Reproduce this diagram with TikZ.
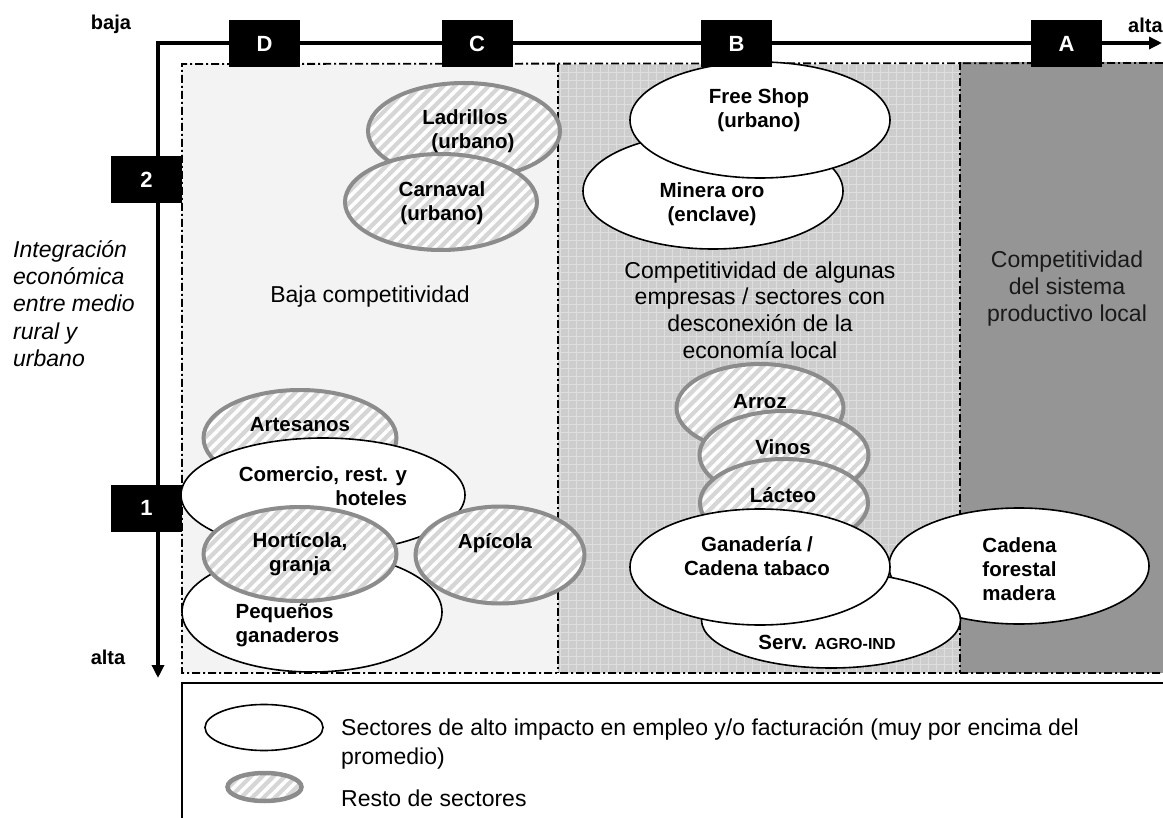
\documentclass[tikz,border=0pt]{standalone}
\usepackage{fontspec}
\setmainfont{Liberation Sans}
\usetikzlibrary{shapes.geometric,patterns.meta,arrows.meta}
\definecolor{zoneD}{HTML}{F3F3F3}
\definecolor{zoneB}{HTML}{CDCDCD}
\definecolor{gridc}{HTML}{DEDEDE}
\definecolor{zoneA}{HTML}{959595}
\definecolor{hatchbg}{HTML}{D6D6D6}
\definecolor{hatchbd}{HTML}{8C8C8C}
\begin{document}
\begin{tikzpicture}[x=1pt,y=-1pt,
 big/.style={ellipse, draw=black, line width=1.6pt, fill=white, inner sep=0pt},
 hatch/.style={ellipse, draw=hatchbd, line width=4pt, inner sep=0pt, preaction={fill=hatchbg}, pattern={Lines[angle=45,distance=8pt,line width=3.5pt]}, pattern color=white},
 lab/.style={font=\bfseries\fontsize{20.5}{24}\selectfont, align=center, inner sep=0pt},
 reg/.style={font=\fontsize{23}{26.7}\selectfont, align=center, inner sep=0pt},
 blackbox/.style={fill=black, text=white, minimum width=71pt, minimum height=47pt, inner sep=0pt, font=\bfseries\fontsize{22}{22}\selectfont},
 axisline/.style={line width=4pt, {Triangle[length=13pt,width=12pt]}-{Triangle[length=13pt,width=12pt]}},
 zoneline/.style={line width=1.8pt, dash pattern=on 8pt off 3pt on 2pt off 3pt},
 endlab/.style={font=\bfseries\fontsize{20}{20}\selectfont, inner sep=0pt},
]
\useasboundingbox (0,0) rectangle (1163,818);
% zones
\fill[zoneD] (182,64) rectangle (558,673);
\fill[zoneB] (558,64) rectangle (960,673);
\draw[gridc, line width=0.8pt, step=8pt] (558,64) grid (960,673);
\fill[zoneA] (960,62) rectangle (1163,673);
\draw[zoneline] (1163,63) -- (182,64) -- (182,673) -- (1163,673);
\draw[zoneline] (558,64) -- (558,673);
\draw[zoneline] (960,62) -- (960,673);
% zone texts
\node[reg] (tbaja) at (370,297) {Baja competitividad};
\node[reg] (tbtext) at (760,310) {Competitividad de algunas\\empresas / sectores con\\desconexión de la\\economía local};
\node[reg, text=black!90] (tatext) at (1067,288.5) {Competitividad\\del sistema\\productivo local};
\node[reg, align=left, anchor=west, font=\itshape\fontsize{23}{27.3}\selectfont] (yaxis) at (13,303.5) {Integración\\económica\\entre medio\\rural y\\urbano};
% ellipses
\node[hatch, minimum width=192pt, minimum height=96pt] (ladr) at (464,131) {};
\node[hatch, minimum width=192pt, minimum height=96pt] (carn) at (441,202) {};
\node[big, minimum width=260pt, minimum height=116pt] (mine) at (713,191) {};
\node[big, minimum width=260pt, minimum height=116pt] (free) at (760,120) {};
\node[hatch, minimum width=193pt, minimum height=96pt] (arte) at (300,438) {};
\node[big, minimum width=284pt, minimum height=114pt] (come) at (323,495) {};
\node[big, minimum width=260pt, minimum height=120pt] (pequ) at (312,612) {};
\node[hatch, minimum width=193pt, minimum height=94pt] (hort) at (300,554) {};
\node[hatch, minimum width=169pt, minimum height=97pt] (apic) at (500,555) {};
\node[hatch, minimum width=167pt, minimum height=88pt] (arro) at (760,408) {};
\node[hatch, minimum width=169pt, minimum height=88pt] (vino) at (784,455) {};
\node[hatch, minimum width=168pt, minimum height=88pt] (lact) at (784,503) {};
\node[big, minimum width=260pt, minimum height=116pt] (cade) at (1019,566) {};
\node[big, minimum width=259pt, minimum height=96pt] (serv) at (831,620) {};
\node[big, minimum width=260pt, minimum height=116pt] (gana) at (760,567) {};
% ellipse texts
\node[lab] (tladr) at (465,131) {Ladrillos\\\hspace*{16pt}(urbano)};
\node[lab] (tcarn) at (442,203) {Carnaval\\(urbano)};
\node[lab] (tfree) at (759,110.5) {Free Shop\\(urbano)};
\node[lab] (tmine) at (712,204.5) {Minera oro\\(enclave)};
\node[lab] (tarte) at (300,425) {Artesanos};
\node[lab, align=right] (tcome) at (323,486.5) {Comercio, rest. y\\hoteles};
\node[lab] (thort) at (300,554.5) {Hortícola,\\granja};
\node[lab, align=left] (tpequ) at (287.5,625) {Pequeños\\ganaderos};
\node[lab] (tapic) at (495,543) {Apícola};
\node[lab] (tarro) at (760,402) {Arroz};
\node[lab] (tvino) at (783,447) {Vinos};
\node[lab] (tlact) at (783,495) {Lácteo};
\node[lab] (tgana) at (757,556.5) {Ganadería /\\Cadena tabaco};
\node[lab] (tserv) at (827,642) {Serv. {\fontsize{16}{16}\selectfont AGRO-IND}};
\node[lab, align=left] (tcade) at (1019.5,569) {Cadena\\forestal\\madera};
% axes
\coordinate (corner) at (158,43);
\coordinate (xend) at (1162,43);
\coordinate (yend) at (158,678);
\draw[axisline] (yend) -- (corner) -- (xend);
\node[blackbox] (bD) at (264.5,43.5) {D};
\node[blackbox] (bC) at (477,43.5) {C};
\node[blackbox] (bB) at (736.5,43.5) {B};
\node[blackbox] (bA) at (1066.5,43.5) {A};
\node[blackbox] (b2) at (146.5,179.5) {2};
\node[blackbox] (b1) at (146.5,508) {1};
\node[endlab] (baja) at (111,24) {baja};
\node[endlab, anchor=west] (altax) at (1128,25) {alta};
\node[endlab] (altay) at (108,657) {alta};
% legend
\coordinate (lgTL) at (182,683);
\coordinate (lgBL) at (182,818);
\coordinate (lgTR) at (1163,683);
\draw[line width=1.5pt] (lgBL) -- (lgTL) -- (lgTR);
\node[big, minimum width=118pt, minimum height=46pt] (lgbig) at (264,727.5) {};
\node[hatch, line width=4.5pt, minimum width=74pt, minimum height=28pt] (lghatch) at (264.5,787) {};
\node[reg, align=left, anchor=west, font=\fontsize{23}{29}\selectfont] (lgt1) at (341,743.5) {Sectores de alto impacto en empleo y/o facturación (muy por encima del\\promedio)};
\node[reg, anchor=west] (lgt2) at (341,798) {Resto de sectores};
\end{tikzpicture}
\end{document}
